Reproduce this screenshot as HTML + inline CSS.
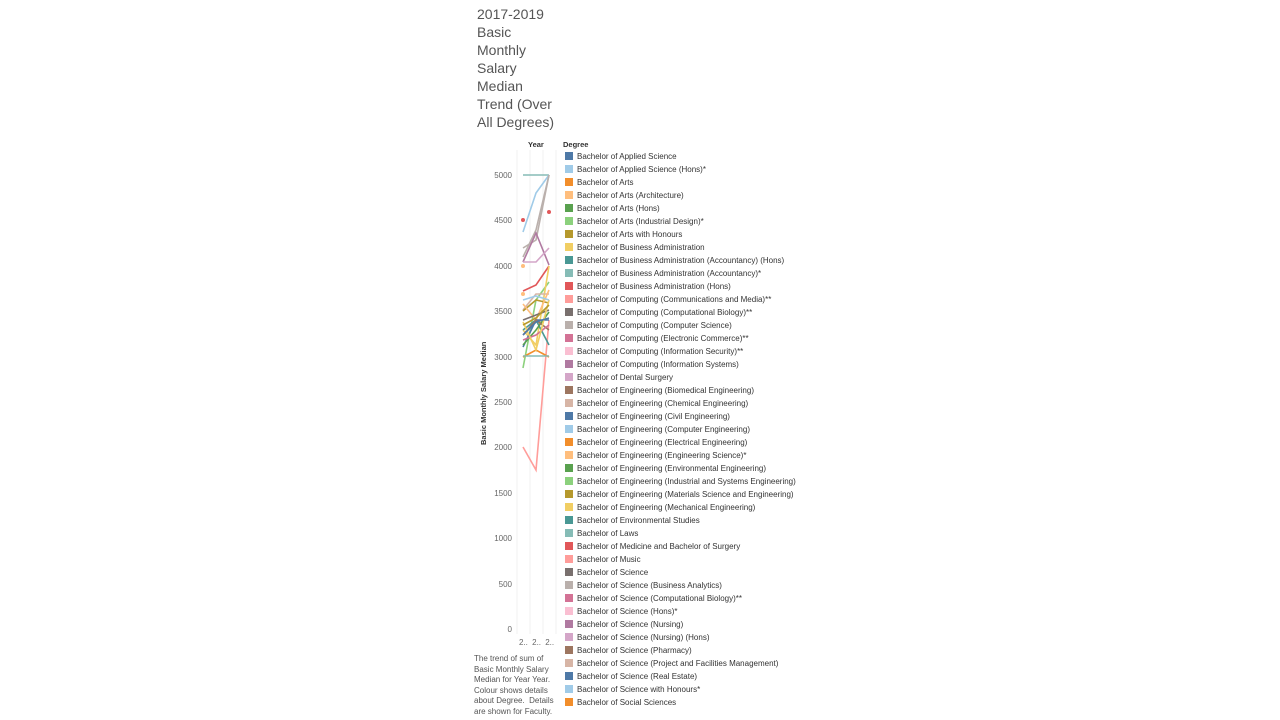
<!DOCTYPE html>
<html><head><meta charset="utf-8"><style>
body{margin:0;width:1280px;height:720px;background:#fff;font-family:"Liberation Sans",sans-serif;position:relative;overflow:hidden}
.t{position:absolute;left:477px;top:5px;font-size:14px;line-height:18px;color:#555}
.lg{position:absolute;left:565px;font-size:8px;color:#333;white-space:nowrap;line-height:9px}
.lg span{display:inline-block;width:8px;height:8px;vertical-align:top;margin-right:4px}
.ax{position:absolute;font-size:8px;color:#666;text-align:right;width:40px;left:472px}
.note{position:absolute;left:474px;top:654px;font-size:8px;line-height:10.5px;color:#555;width:90px}
</style></head><body>
<div class="t">2017-2019<br>Basic<br>Monthly<br>Salary<br>Median<br>Trend (Over<br>All Degrees)</div>
<div style="position:absolute;left:528px;top:140px;font-size:7.5px;font-weight:bold;color:#333">Year</div>
<div style="position:absolute;left:563px;top:140px;font-size:7.5px;font-weight:bold;color:#333">Degree</div>
<div style="position:absolute;left:479px;top:445px;transform:rotate(-90deg);transform-origin:0 0;font-size:7.5px;font-weight:bold;color:#333;white-space:nowrap">Basic Monthly Salary Median</div>
<div class="ax" style="top:171px">5000</div>
<div class="ax" style="top:216px">4500</div>
<div class="ax" style="top:262px">4000</div>
<div class="ax" style="top:307px">3500</div>
<div class="ax" style="top:353px">3000</div>
<div class="ax" style="top:398px">2500</div>
<div class="ax" style="top:443px">2000</div>
<div class="ax" style="top:489px">1500</div>
<div class="ax" style="top:534px">1000</div>
<div class="ax" style="top:580px">500</div>
<div class="ax" style="top:625px">0</div>
<div style="position:absolute;left:519px;top:638px;font-size:8px;color:#666;word-spacing:2px">2.. 2.. 2..</div>
<svg style="position:absolute;left:0;top:0" width="1280" height="720">
<g stroke="#f0f0f0" stroke-width="1"><line x1="517" y1="150" x2="517" y2="634"/><line x1="530" y1="150" x2="530" y2="634"/><line x1="543" y1="150" x2="543" y2="634"/><line x1="556" y1="150" x2="556" y2="634"/></g>
<g fill="none" stroke-width="1.6">
<polyline stroke="#FF9D9A" points="523,447 536,470 549,320"/>
<polyline stroke="#86BCB6" points="523,175 536,175 549,175"/>
<polyline stroke="#A0CBE8" points="523,232 536,193 549,175"/>
<polyline stroke="#BAB0AC" points="523,257 536,230 549,175"/>
<polyline stroke="#BAB0AC" points="523,248 536,240 549,175"/>
<polyline stroke="#B07AA1" points="523,262 536,233 549,265"/>
<polyline stroke="#D4A6C8" points="523,262 536,262 549,248"/>
<polyline stroke="#E15759" points="523,291 536,285 549,266"/>
<polyline stroke="#8CD17D" points="523,368 536,300 549,282"/>
<polyline stroke="#F1CE63" points="523,330 536,345 549,266"/>
<polyline stroke="#D7B5A6" points="523,310 536,294 549,294"/>
<polyline stroke="#B6992D" points="523,311 536,300 549,303"/>
<polyline stroke="#FFBE7D" points="523,304 536,320 549,290"/>
<polyline stroke="#4E79A7" points="523,347 536,320 549,320"/>
<polyline stroke="#499894" points="523,330 536,320 549,345"/>
<polyline stroke="#59A14F" points="523,345 536,330 549,312"/>
<polyline stroke="#F28E2B" points="523,357 536,350 549,357"/>
<polyline stroke="#86BCB6" points="523,356 536,356 549,356"/>
<polyline stroke="#9D7660" points="523,335 536,320 549,330"/>
<polyline stroke="#D37295" points="523,340 536,335 549,325"/>
<polyline stroke="#79706E" points="523,320 536,315 549,310"/>
<polyline stroke="#F1CE63" points="523,322 536,350 549,300"/>
<polyline stroke="#4E79A7" points="523,335 536,322 549,318"/>
<polyline stroke="#A0CBE8" points="523,300 536,296 549,300"/>
<polyline stroke="#B6992D" points="523,325 536,318 549,305"/>
</g>
<circle cx="523" cy="220" r="2" fill="#E15759"/><circle cx="549" cy="212" r="2" fill="#E15759"/>
<circle cx="523" cy="266" r="2" fill="#FFBE7D"/><circle cx="523" cy="294" r="2" fill="#FFBE7D"/>
</svg>
<div id="L"></div>
<div class="note">The trend of sum of Basic Monthly Salary Median for Year Year. Colour shows details about Degree.&nbsp; Details are shown for Faculty.</div>
<div class="lg" style="top:152px"><span style="background:#4E79A7"></span>Bachelor of Applied Science</div>
<div class="lg" style="top:165px"><span style="background:#A0CBE8"></span>Bachelor of Applied Science (Hons)*</div>
<div class="lg" style="top:178px"><span style="background:#F28E2B"></span>Bachelor of Arts</div>
<div class="lg" style="top:191px"><span style="background:#FFBE7D"></span>Bachelor of Arts (Architecture)</div>
<div class="lg" style="top:204px"><span style="background:#59A14F"></span>Bachelor of Arts (Hons)</div>
<div class="lg" style="top:217px"><span style="background:#8CD17D"></span>Bachelor of Arts (Industrial Design)*</div>
<div class="lg" style="top:230px"><span style="background:#B6992D"></span>Bachelor of Arts with Honours</div>
<div class="lg" style="top:243px"><span style="background:#F1CE63"></span>Bachelor of Business Administration</div>
<div class="lg" style="top:256px"><span style="background:#499894"></span>Bachelor of Business Administration (Accountancy) (Hons)</div>
<div class="lg" style="top:269px"><span style="background:#86BCB6"></span>Bachelor of Business Administration (Accountancy)*</div>
<div class="lg" style="top:282px"><span style="background:#E15759"></span>Bachelor of Business Administration (Hons)</div>
<div class="lg" style="top:295px"><span style="background:#FF9D9A"></span>Bachelor of Computing (Communications and Media)**</div>
<div class="lg" style="top:308px"><span style="background:#79706E"></span>Bachelor of Computing (Computational Biology)**</div>
<div class="lg" style="top:321px"><span style="background:#BAB0AC"></span>Bachelor of Computing (Computer Science)</div>
<div class="lg" style="top:334px"><span style="background:#D37295"></span>Bachelor of Computing (Electronic Commerce)**</div>
<div class="lg" style="top:347px"><span style="background:#FABFD2"></span>Bachelor of Computing (Information Security)**</div>
<div class="lg" style="top:360px"><span style="background:#B07AA1"></span>Bachelor of Computing (Information Systems)</div>
<div class="lg" style="top:373px"><span style="background:#D4A6C8"></span>Bachelor of Dental Surgery</div>
<div class="lg" style="top:386px"><span style="background:#9D7660"></span>Bachelor of Engineering (Biomedical Engineering)</div>
<div class="lg" style="top:399px"><span style="background:#D7B5A6"></span>Bachelor of Engineering (Chemical Engineering)</div>
<div class="lg" style="top:412px"><span style="background:#4E79A7"></span>Bachelor of Engineering (Civil Engineering)</div>
<div class="lg" style="top:425px"><span style="background:#A0CBE8"></span>Bachelor of Engineering (Computer Engineering)</div>
<div class="lg" style="top:438px"><span style="background:#F28E2B"></span>Bachelor of Engineering (Electrical Engineering)</div>
<div class="lg" style="top:451px"><span style="background:#FFBE7D"></span>Bachelor of Engineering (Engineering Science)*</div>
<div class="lg" style="top:464px"><span style="background:#59A14F"></span>Bachelor of Engineering (Environmental Engineering)</div>
<div class="lg" style="top:477px"><span style="background:#8CD17D"></span>Bachelor of Engineering (Industrial and Systems Engineering)</div>
<div class="lg" style="top:490px"><span style="background:#B6992D"></span>Bachelor of Engineering (Materials Science and Engineering)</div>
<div class="lg" style="top:503px"><span style="background:#F1CE63"></span>Bachelor of Engineering (Mechanical Engineering)</div>
<div class="lg" style="top:516px"><span style="background:#499894"></span>Bachelor of Environmental Studies</div>
<div class="lg" style="top:529px"><span style="background:#86BCB6"></span>Bachelor of Laws</div>
<div class="lg" style="top:542px"><span style="background:#E15759"></span>Bachelor of Medicine and Bachelor of Surgery</div>
<div class="lg" style="top:555px"><span style="background:#FF9D9A"></span>Bachelor of Music</div>
<div class="lg" style="top:568px"><span style="background:#79706E"></span>Bachelor of Science</div>
<div class="lg" style="top:581px"><span style="background:#BAB0AC"></span>Bachelor of Science (Business Analytics)</div>
<div class="lg" style="top:594px"><span style="background:#D37295"></span>Bachelor of Science (Computational Biology)**</div>
<div class="lg" style="top:607px"><span style="background:#FABFD2"></span>Bachelor of Science (Hons)*</div>
<div class="lg" style="top:620px"><span style="background:#B07AA1"></span>Bachelor of Science (Nursing)</div>
<div class="lg" style="top:633px"><span style="background:#D4A6C8"></span>Bachelor of Science (Nursing) (Hons)</div>
<div class="lg" style="top:646px"><span style="background:#9D7660"></span>Bachelor of Science (Pharmacy)</div>
<div class="lg" style="top:659px"><span style="background:#D7B5A6"></span>Bachelor of Science (Project and Facilities Management)</div>
<div class="lg" style="top:672px"><span style="background:#4E79A7"></span>Bachelor of Science (Real Estate)</div>
<div class="lg" style="top:685px"><span style="background:#A0CBE8"></span>Bachelor of Science with Honours*</div>
<div class="lg" style="top:698px"><span style="background:#F28E2B"></span>Bachelor of Social Sciences</div>
</body></html>
